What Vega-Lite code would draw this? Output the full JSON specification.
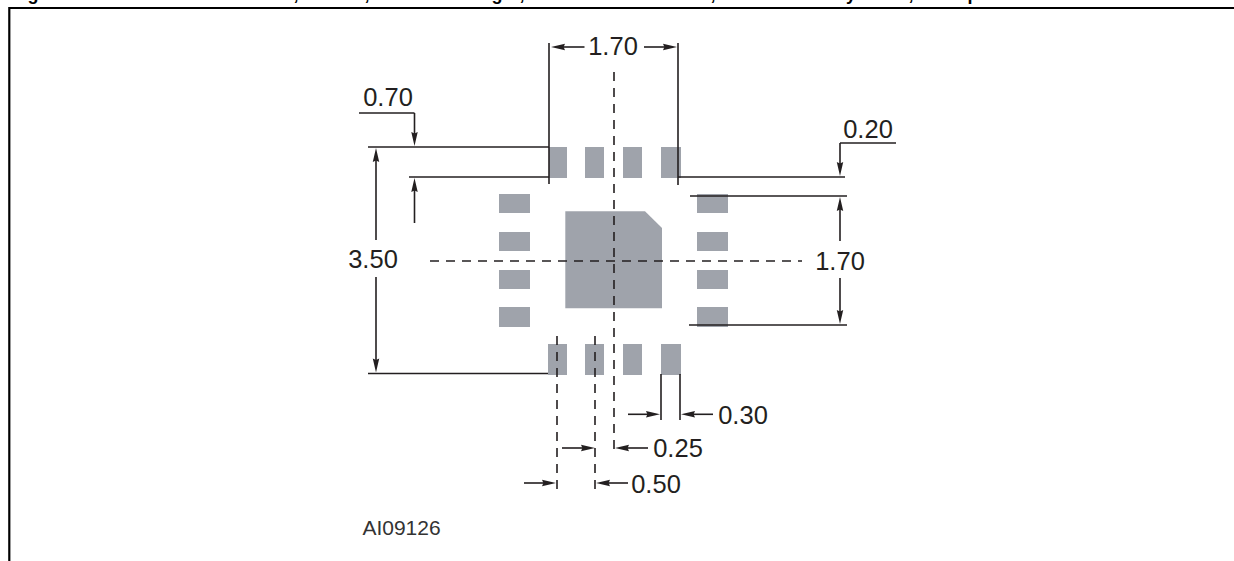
{"$schema":"https://vega.github.io/schema/vega-lite/v6.json","width":1234,"height":561,"autosize":{"type":"none"},"padding":0,"background":"white","config":{"view":{"stroke":null}},
"encoding":{},
"layer":[
{"data":{"values":[{"x":549,"x2":567,"y":147,"y2":178},{"x":585,"x2":604,"y":147,"y2":178},{"x":623,"x2":642,"y":147,"y2":178},{"x":661,"x2":681,"y":147,"y2":178},{"x":548,"x2":567,"y":344,"y2":375},{"x":585,"x2":604,"y":344,"y2":375},{"x":623,"x2":642,"y":344,"y2":375},{"x":661,"x2":681,"y":344,"y2":375},{"x":499,"x2":530,"y":194,"y2":213},{"x":499,"x2":530,"y":232,"y2":251},{"x":499,"x2":530,"y":270,"y2":289},{"x":499,"x2":530,"y":307,"y2":327},{"x":697,"x2":728,"y":194,"y2":213},{"x":697,"x2":728,"y":232,"y2":251},{"x":697,"x2":728,"y":270,"y2":289},{"x":697,"x2":728,"y":307,"y2":327}]},
"mark":{"type":"rect","color":"#9fa3ab"},
"encoding":{"x":{"field":"x","type":"quantitative","scale":{"domain":[0,1234],"nice":false,"zero":false},"axis":null},"x2":{"field":"x2"},"y":{"field":"y","type":"quantitative","scale":{"domain":[561,0],"nice":false,"zero":false},"axis":null},"y2":{"field":"y2"}}},
{"data":{"values":[{"x":565.3,"y":211.3,"y2":308.3},{"x":645,"y":211.3,"y2":308.3},{"x":662,"y":228,"y2":308.3}]},
"mark":{"type":"area","color":"#9fa3ab"},
"encoding":{"x":{"field":"x","type":"quantitative","scale":{"domain":[0,1234],"nice":false,"zero":false},"axis":null},"y":{"field":"y","type":"quantitative","scale":{"domain":[561,0],"nice":false,"zero":false},"axis":null},"y2":{"field":"y2"}}},
{"data":{"values":[{"x":9.3,"x2":1234,"y":8,"y2":8},{"x":9.3,"x2":9.3,"y":7,"y2":561}]},
"mark":{"type":"rule","color":"#000000","strokeWidth":2.2},
"encoding":{"x":{"field":"x","type":"quantitative","scale":{"domain":[0,1234],"nice":false,"zero":false},"axis":null},"x2":{"field":"x2"},"y":{"field":"y","type":"quantitative","scale":{"domain":[561,0],"nice":false,"zero":false},"axis":null},"y2":{"field":"y2"}}},
{"data":{"values":[{"x":368,"x2":549,"y":147,"y2":147},{"x":409,"x2":549,"y":177,"y2":177},{"x":549,"x2":549,"y":43,"y2":184},{"x":359,"x2":414.5,"y":113,"y2":113},{"x":414.5,"x2":414.5,"y":113,"y2":140},{"x":414.5,"x2":414.5,"y":185,"y2":223},{"x":376,"x2":376,"y":155,"y2":240},{"x":376,"x2":376,"y":277,"y2":365},{"x":368,"x2":548,"y":373.5,"y2":373.5},{"x":584.5,"x2":558,"y":47,"y2":47},{"x":644,"x2":670,"y":47,"y2":47},{"x":678,"x2":678,"y":43,"y2":185},{"x":678,"x2":845,"y":177,"y2":177},{"x":840,"x2":896,"y":143,"y2":143},{"x":840,"x2":840,"y":143,"y2":170},{"x":690,"x2":847,"y":196,"y2":196},{"x":840,"x2":840,"y":205,"y2":241},{"x":840,"x2":840,"y":278,"y2":316},{"x":689,"x2":847,"y":325,"y2":325},{"x":661,"x2":661,"y":374,"y2":420},{"x":680,"x2":680,"y":374,"y2":420},{"x":628,"x2":652,"y":414.3,"y2":414.3},{"x":713,"x2":689,"y":414.3,"y2":414.3},{"x":562,"x2":586,"y":448,"y2":448},{"x":648,"x2":624,"y":448,"y2":448},{"x":524,"x2":548,"y":483,"y2":483},{"x":628,"x2":604,"y":483,"y2":483}]},
"mark":{"type":"rule","color":"#231f20","strokeWidth":1.6},
"encoding":{"x":{"field":"x","type":"quantitative","scale":{"domain":[0,1234],"nice":false,"zero":false},"axis":null},"x2":{"field":"x2"},"y":{"field":"y","type":"quantitative","scale":{"domain":[561,0],"nice":false,"zero":false},"axis":null},"y2":{"field":"y2"}}},
{"data":{"values":[{"x":614,"x2":614,"y":72,"y2":449},{"x":430,"x2":802,"y":261,"y2":261},{"x":557,"x2":557,"y":336,"y2":489},{"x":595,"x2":595,"y":336,"y2":489}]},
"mark":{"type":"rule","color":"#231f20","strokeWidth":1.6,"strokeDash":[9,7]},
"encoding":{"x":{"field":"x","type":"quantitative","scale":{"domain":[0,1234],"nice":false,"zero":false},"axis":null},"x2":{"field":"x2"},"y":{"field":"y","type":"quantitative","scale":{"domain":[561,0],"nice":false,"zero":false},"axis":null},"y2":{"field":"y2"}}},
{"data":{"values":[{"x":414.5,"y":146,"dir":180},{"x":414.5,"y":178,"dir":0},{"x":376,"y":148,"dir":0},{"x":376,"y":372.5,"dir":180},{"x":551,"y":47,"dir":270},{"x":677,"y":47,"dir":90},{"x":840,"y":176,"dir":180},{"x":840,"y":197,"dir":0},{"x":840,"y":324,"dir":180},{"x":660,"y":414.3,"dir":90},{"x":681,"y":414.3,"dir":270},{"x":595,"y":448,"dir":90},{"x":615,"y":448,"dir":270},{"x":556,"y":483,"dir":90},{"x":596,"y":483,"dir":270}]},
"mark":{"type":"point","filled":true,"opacity":1,"color":"#231f20","size":784,"shape":"M0,0L.23,1L0,.9L-.23,1Z"},
"encoding":{"x":{"field":"x","type":"quantitative","scale":{"domain":[0,1234],"nice":false,"zero":false},"axis":null},"y":{"field":"y","type":"quantitative","scale":{"domain":[561,0],"nice":false,"zero":false},"axis":null},"angle":{"field":"dir","type":"quantitative","scale":null}}},
{"data":{"values":[{"x":613,"y":55,"label":"1.70"},{"x":388,"y":106,"label":"0.70"},{"x":868,"y":137.7,"label":"0.20"},{"x":373,"y":268,"label":"3.50"},{"x":840,"y":270,"label":"1.70"},{"x":743,"y":423.7,"label":"0.30"},{"x":678,"y":457,"label":"0.25"},{"x":656,"y":492.7,"label":"0.50"}]},
"mark":{"type":"text","font":"Liberation Sans","fontSize":25.5,"color":"#231f20","align":"center","baseline":"alphabetic"},
"encoding":{"x":{"field":"x","type":"quantitative","scale":{"domain":[0,1234],"nice":false,"zero":false},"axis":null},"y":{"field":"y","type":"quantitative","scale":{"domain":[561,0],"nice":false,"zero":false},"axis":null},"text":{"field":"label"}}},
{"data":{"values":[{"x":401.5,"y":535,"label":"AI09126"}]},
"mark":{"type":"text","font":"Liberation Sans","fontSize":21,"color":"#333333","align":"center","baseline":"alphabetic"},
"encoding":{"x":{"field":"x","type":"quantitative","scale":{"domain":[0,1234],"nice":false,"zero":false},"axis":null},"y":{"field":"y","type":"quantitative","scale":{"domain":[561,0],"nice":false,"zero":false},"axis":null},"text":{"field":"label"}}},
{"data":{"values":[{"x":33,"y":0,"label":"g"},{"x":296,"y":0,"label":","},{"x":367,"y":0,"label":","},{"x":497,"y":0,"label":"g"},{"x":522,"y":0,"label":","},{"x":713,"y":0,"label":","},{"x":851,"y":0,"label":"y"},{"x":911,"y":0,"label":","},{"x":973,"y":0,"label":"p"}]},
"mark":{"type":"text","font":"Liberation Sans","fontWeight":"bold","fontSize":18,"color":"#000000","align":"center","baseline":"alphabetic"},
"encoding":{"x":{"field":"x","type":"quantitative","scale":{"domain":[0,1234],"nice":false,"zero":false},"axis":null},"y":{"field":"y","type":"quantitative","scale":{"domain":[561,0],"nice":false,"zero":false},"axis":null},"text":{"field":"label"}}}
]}
